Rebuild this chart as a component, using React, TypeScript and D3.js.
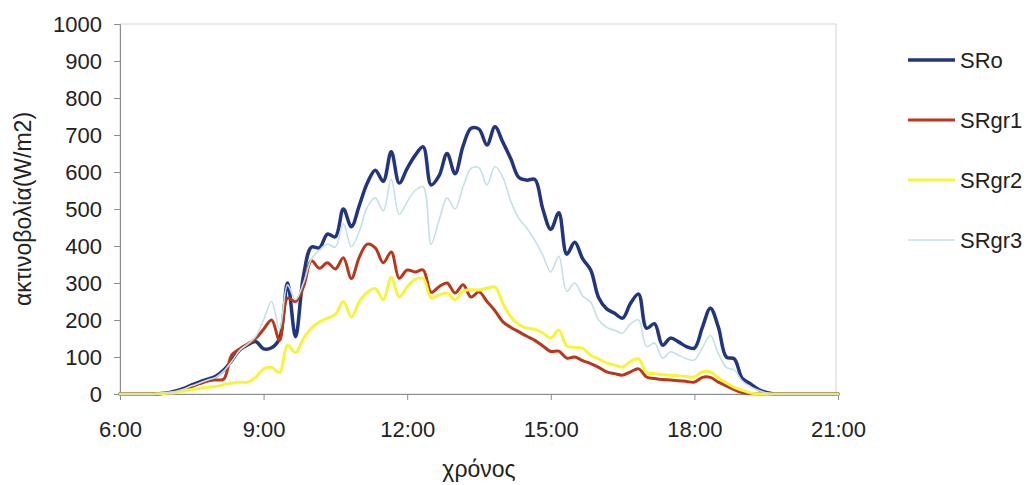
import { useRef, useEffect } from 'react';
import * as d3 from 'd3';

// 10-minute readings, 6:00 .. 21:00 (91 points)
const hours = d3.range(91).map((i) => 6 + i / 6);

const srO = [
  0, 0, 0, 0, 0, 1, 3, 8, 15, 25,
  33, 40, 48, 65, 90, 119, 133, 142, 122, 125,
  150, 300, 155, 320, 397, 395, 432, 425, 500, 452,
  510, 570, 605, 575, 655, 570, 610, 645, 668, 565,
  590, 650, 595, 670, 718, 716, 673, 722, 680, 635,
  585, 578, 580, 500, 445, 490, 378, 410, 365, 335,
  260, 230, 218, 205, 245, 270, 178, 190, 132, 151,
  141, 128, 124, 180, 232, 181, 100, 95, 42, 28,
  13, 4, 0, 0, 0, 0, 0, 0, 0, 0, 0,
];

const srGr1 = [
  0, 0, 0, 0, 0, 1, 2, 6, 12, 20,
  28, 35, 38, 40, 105, 122, 135, 150, 175, 200,
  145, 259, 250, 290, 360, 340, 355, 338, 368, 312,
  370, 405, 395, 355, 384, 313, 335, 330, 335, 275,
  290, 300, 273, 295, 262, 276, 250, 225, 195, 180,
  168, 156, 145, 130, 115, 116, 97, 100, 90, 82,
  72, 60, 55, 51, 60, 68, 46, 42, 39, 38,
  36, 34, 32, 45, 45, 32, 22, 12, 4, 1,
  0, 0, 0, 0, 0, 0, 0, 0, 0, 0, 0,
];

const srGr2 = [
  0, 0, 0, 0, 0, 1, 2, 4, 8, 12,
  15, 18, 20, 25, 30, 32, 32, 45, 68, 72,
  58, 132, 112, 150, 178, 195, 205, 215, 250, 208,
  250, 275, 285, 255, 315, 262, 290, 310, 312, 260,
  268, 273, 255, 278, 282, 281, 286, 289, 245, 208,
  188, 178, 175, 165, 151, 173, 130, 126, 123, 105,
  95, 84, 78, 73, 88, 95, 58, 55, 52, 51,
  49, 47, 46, 60, 60, 43, 30, 18, 10, 3,
  0, 0, 0, 0, 0, 0, 0, 0, 0, 0, 0,
];

const srGr3 = [
  0, 0, 0, 0, 0, 1, 3, 7, 13, 22,
  30, 38, 45, 62, 88, 118, 135, 155, 200, 250,
  175, 295, 255, 300, 365, 389, 405, 397, 460, 398,
  440, 505, 530, 495, 580, 485, 520, 550, 560, 405,
  470, 530, 500, 560, 610, 611, 565, 615, 585, 520,
  475, 448, 415, 375, 330, 372, 278, 300, 265, 248,
  200, 180, 172, 165, 190, 200, 128, 138, 97, 114,
  105, 95, 92, 125, 158, 110, 72, 65, 35, 20,
  10, 3, 0, 0, 0, 0, 0, 0, 0, 0, 0,
];

const seriesNames = ['SRo', 'SRgr1', 'SRgr2', 'SRgr3'];
const seriesValues = [srO, srGr1, srGr2, srGr3];
const seriesColors = ['#223680', '#b8381d', '#f7f43c', '#c3e1e6'];
const seriesWidths = [3.5, 3, 3, 1.6];

const xTicks = [6, 9, 12, 15, 18, 21];
const yTicks = [0, 100, 200, 300, 400, 500, 600, 700, 800, 900, 1000];

const width = 1031;
const height = 485;
const margin = { top: 24, left: 120, right: 193, bottom: 91 };
const font = '"Liberation Sans", Arial, sans-serif';

const Chart = () => {
  const ref = useRef(null);

  useEffect(() => {
    document.body.style.margin = '0';
    const svg = d3.select(ref.current);
    svg.selectAll('*').remove();

    const x = d3
      .scaleLinear()
      .domain([6, 21])
      .range([margin.left, width - margin.right]);
    const y = d3
      .scaleLinear()
      .domain([0, 1000])
      .range([height - margin.bottom, margin.top]);

    svg
      .append('rect')
      .attr('width', width)
      .attr('height', height)
      .attr('fill', 'white');

    // plot area frame
    svg
      .append('rect')
      .attr('x', x(6))
      .attr('y', y(1000))
      .attr('width', x(21) - x(6) - 2)
      .attr('height', y(0) - y(1000))
      .attr('fill', 'none')
      .attr('stroke', '#d4d4d4')
      .attr('stroke-width', 1);

    // y axis
    const yAxis = svg
      .append('g')
      .attr('transform', `translate(${x(6)},0)`)
      .call(
        d3
          .axisLeft(y)
          .tickValues(yTicks)
          .tickSize(6)
          .tickPadding(12)
          .tickFormat(d3.format('d'))
      );
    yAxis.select('.domain').attr('stroke', '#8c8c8c');
    yAxis.selectAll('line').attr('stroke', '#8c8c8c');
    yAxis
      .selectAll('text')
      .attr('fill', '#222')
      .style('font-family', font)
      .style('font-size', '22px');

    // x axis
    const xAxis = svg
      .append('g')
      .attr('transform', `translate(0,${y(0)})`)
      .call(
        d3
          .axisBottom(x)
          .tickValues(xTicks)
          .tickSize(6)
          .tickPadding(21)
          .tickFormat((d) => `${d}:00`)
      );
    xAxis.select('.domain').attr('stroke', '#8c8c8c');
    xAxis.selectAll('line').attr('stroke', '#8c8c8c');
    xAxis
      .selectAll('text')
      .attr('fill', '#222')
      .style('font-family', font)
      .style('font-size', '22px');

    const line = d3
      .line()
      .x((d, i) => x(hours[i]))
      .y((d) => y(Math.max(0, d)))
      .curve(d3.curveCatmullRom.alpha(0.5));

    seriesValues.forEach((vals, k) => {
      svg
        .append('path')
        .datum(vals)
        .attr('d', line)
        .attr('fill', 'none')
        .attr('stroke', seriesColors[k])
        .attr('stroke-width', seriesWidths[k])
        .attr('stroke-linejoin', 'round')
        .attr('stroke-linecap', 'round');
    });

    // legend
    const legend = svg.append('g').attr('transform', 'translate(908,60)');
    seriesNames.forEach((name, k) => {
      const g = legend.append('g').attr('transform', `translate(0,${k * 60})`);
      g.append('line')
        .attr('x1', 0)
        .attr('x2', 47)
        .attr('stroke', seriesColors[k])
        .attr('stroke-width', seriesWidths[k]);
      g.append('text')
        .attr('x', 52)
        .attr('dy', '0.35em')
        .attr('fill', '#222')
        .style('font-family', font)
        .style('font-size', '22px')
        .text(name);
    });

    // axis titles
    svg
      .append('text')
      .attr('transform', `translate(31,${(y(0) + y(1000)) / 2}) rotate(-90)`)
      .attr('text-anchor', 'middle')
      .attr('fill', '#222')
      .style('font-family', font)
      .style('font-size', '23px')
      .text('ακτινοβολία(W/m2)');

    svg
      .append('text')
      .attr('x', (x(6) + x(21)) / 2)
      .attr('y', 477)
      .attr('text-anchor', 'middle')
      .attr('fill', '#222')
      .style('font-family', font)
      .style('font-size', '23px')
      .text('χρόνος');
  }, []);

  return <svg ref={ref} width={width} height={height} style={{ display: 'block' }}></svg>;
};

export default function App() {
  return <Chart />;
}
